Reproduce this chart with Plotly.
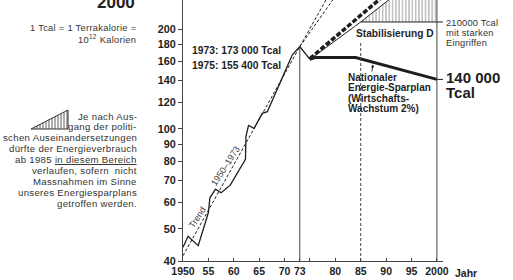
import math
import plotly.graph_objects as go

# ---------------- data ----------------
hist_years = [1950, 1951, 1953, 1955.0, 1955.3, 1956.4, 1957.5, 1959.3, 1962.3, 1962.4, 1962.9, 1964.0,
              1965.6, 1966.6, 1969.5, 1971.5, 1973, 1975]
hist_vals = [44, 47.5, 44.5, 56, 62, 65.8, 64.2, 67.7, 81, 95, 102.5, 100.4,
             111.4, 112.7, 142, 167, 177, 162]

trend_a_years = [1950, 1973, 1980]
trend_a_vals = [41.5, 177, 275]
trend_b_years = [1973, 1980]
trend_b_vals = [177, 251]

plan_years = [1975, 1976, 1984, 2000]
plan_vals = [162, 164, 164, 141]

gek_years = [1975, 1989]
gek_vals = [163, 248]

upper_years = [1975, 1985, 1992]
upper_vals = [162, 210, 255]

stab_years = [1985, 2000]
stab_vals = [210, 210]
hatch_top_years = [1985, 1992, 2000]
hatch_top_vals = [210, 255, 320]

x_tickvals = [1950, 1955, 1960, 1965, 1970, 1973, 1980, 1985, 1990, 1995, 2000]
x_ticktext = ["1950", "55", "60", "65", "70", "73", "80", "85", "90", "95", "2000"]
x_minor_ticks = [1975]
y_tickvals = [40, 50, 60, 70, 80, 90, 100, 120, 140, 160, 180, 200]

# ---------------- layout helpers ----------------
L, R, T, B = 183, 443, 0, 261
W, H = R - L, B - T
def px(x):
    return (x - L) / W
def py(y):
    return (B - y) / H

FONT = "Liberation Sans, Arial, Helvetica, sans-serif"
INK = "#1e1e1e"

fig = go.Figure()

# hatched area (between 210 line and upper scenario)
fig.add_trace(go.Scatter(x=stab_years, y=stab_vals, mode="lines",
                         line=dict(color=INK, width=1), hoverinfo="skip"))
fig.add_trace(go.Scatter(x=hatch_top_years, y=hatch_top_vals, mode="lines",
                         line=dict(width=0), fill="tonexty", fillcolor="rgba(0,0,0,0)",
                         fillpattern=dict(shape="|", size=3.3, solidity=0.3,
                                          fgcolor="#333", bgcolor="white"),
                         hoverinfo="skip"))
# extension ticks of 210 and 140 lines
fig.add_trace(go.Scatter(x=[2000, 2001.2], y=[210, 210], mode="lines",
                         line=dict(color=INK, width=1), hoverinfo="skip"))
fig.add_trace(go.Scatter(x=[2000, 2001.2], y=[plan_vals[-1], plan_vals[-1]], mode="lines",
                         line=dict(color=INK, width=1), hoverinfo="skip"))

# upper thin scenario line
fig.add_trace(go.Scatter(x=upper_years, y=upper_vals, mode="lines",
                         line=dict(color=INK, width=1), hoverinfo="skip"))
# trend lines
fig.add_trace(go.Scatter(x=trend_a_years, y=trend_a_vals, mode="lines",
                         line=dict(color=INK, width=1, dash="3px,2px"), hoverinfo="skip"))
fig.add_trace(go.Scatter(x=trend_b_years, y=trend_b_vals, mode="lines",
                         line=dict(color=INK, width=1, dash="3px,2px"), hoverinfo="skip"))
# GEK thick dashed
fig.add_trace(go.Scatter(x=gek_years, y=gek_vals, mode="lines",
                         line=dict(color=INK, width=3.5, dash="5px,2px"), hoverinfo="skip"))
# historical
fig.add_trace(go.Scatter(x=hist_years, y=hist_vals, mode="lines",
                         line=dict(color=INK, width=1.3), hoverinfo="skip"))
# energy saving plan
fig.add_trace(go.Scatter(x=plan_years, y=plan_vals, mode="lines",
                         line=dict(color=INK, width=3), hoverinfo="skip"))

shapes = [
    dict(type="line", xref="x", yref="y", x0=1973, x1=1973, y0=40, y1=177,
         line=dict(color="#444", width=1)),
    dict(type="line", xref="x", yref="paper", x0=2000, x1=2000, y0=0, y1=1,
         line=dict(color="#444", width=1)),
    dict(type="line", xref="x", yref="y", x0=1985, x1=1985, y0=40, y1=184,
         line=dict(color="#444", width=1, dash="3px,2px")),
]
# legend icon (hatched triangle) at left
tx0, tx1, tyb, tyt = 31, 68, 129, 110
shapes.append(dict(type="path", xref="paper", yref="paper",
                   path=f"M {px(tx0)},{py(tyb)} L {px(tx1)},{py(tyb)} L {px(tx1)},{py(tyt)} Z",
                   line=dict(color="#333", width=1)))
xx = tx0 + 3
while xx < tx1:
    ytop = tyb - (xx - tx0) * (tyb - tyt) / (tx1 - tx0)
    shapes.append(dict(type="line", xref="paper", yref="paper",
                       x0=px(xx), x1=px(xx), y0=py(tyb), y1=py(ytop),
                       line=dict(color="#333", width=0.8)))
    xx += 3

annotations = []
def txt(text, x, y, size=9.5, xanchor="left", bold=False, color=INK, angle=0, bg=None, ls=None):
    t = f"<b>{text}</b>" if bold else text
    if ls:
        t = f'<span style="letter-spacing:{ls}px">{t}</span>'
    d = dict(text=t, xref="paper", yref="paper",
             x=px(x), y=py(y), xanchor=xanchor, yanchor="middle", showarrow=False,
             font=dict(family=FONT, size=size, color=color), textangle=angle)
    if bg:
        d["bgcolor"] = bg
    annotations.append(d)

txt("2000", 137, 3, size=17, xanchor="right", bold=True)
txt("1 Tcal = 1 Terrakalorie =", 138, 28, size=9.3, xanchor="right", color="#333", ls=0.3)
txt("10<sup>12</sup> Kalorien", 138, 39, size=9.3, xanchor="right", color="#333", ls=0.3)

body = ["Je nach Aus-", "gang der politi-", "schen Auseinandersetzungen",
        "dürfte der Energieverbrauch", "ab 1985 <u>in diesem Bereich</u>",
        "verlaufen, sofern  nicht", "Massnahmen im Sinne",
        "unseres Energiesparplans", "getroffen werden."]
for i, line in enumerate(body):
    txt(line, 139, 116 + i * 10.9, size=9.6, xanchor="right", color="#333", ls=0.32)

txt("1973: 173 000 Tcal", 190, 51, size=10.3, bold=True)
txt("1975: 155 400 Tcal", 190, 65, size=10.3, bold=True)
txt("Stabilisierung D", 436, 33.5, size=10.2, xanchor="right", bold=True, bg="white")
txt("210000 Tcal", 444, 23.5, size=9.3, color="#333", ls=0.2)
txt("mit starken", 444, 33.5, size=9.3, color="#333", ls=0.2)
txt("Eingriffen", 444, 43.5, size=9.3, color="#333", ls=0.2)
for i, line in enumerate(["Nationaler", "Energie-Sparplan", "(Wirtschafts-", "Wachstum 2%)"]):
    txt(line, 346, 77 + i * 10.6, size=10, bold=True)
txt("140 000", 444, 78, size=15, bold=True)
txt("Tcal", 444, 92, size=15, bold=True)
txt("Jahr", 453, 272.5, size=10.5, bold=True)
txt("Trend", 197, 218, size=9, xanchor="center", color="#444", angle=-57)
txt("1950–1973", 225.5, 166, size=9, xanchor="center", color="#444", angle=-57)

annotations.append(dict(xref="paper", yref="paper", x=px(373), y=py(64.5), ax=-1.5, ay=9,
                        text=" ", showarrow=True, arrowhead=2, arrowsize=0.7,
                        arrowwidth=0.9, arrowcolor=INK, font=dict(size=1)))

fig.update_layout(
    width=513, height=280, autosize=False,
    margin=dict(l=L, r=513 - R, t=T, b=280 - B, pad=0),
    paper_bgcolor="white", plot_bgcolor="white",
    showlegend=False,
    shapes=shapes, annotations=annotations,
    xaxis=dict(range=[1950, 2001.2], tickvals=x_tickvals,
               ticktext=[f"<b>{t}</b>" for t in x_ticktext],
               ticks="inside", ticklen=3, tickcolor="#444", showline=True,
               linecolor="#444", linewidth=1, showgrid=False, zeroline=False,
               minor=dict(tickvals=x_minor_ticks, ticks="inside", ticklen=3, tickcolor="#444"),
               tickfont=dict(family=FONT, size=10.5, color=INK), fixedrange=True),
    yaxis=dict(type="log", range=[math.log10(40), math.log10(40) + 261 / 331.9],
               tickvals=y_tickvals, ticktext=[f"<b>{v}</b>" for v in y_tickvals],
               ticks="outside", ticklen=4, tickcolor="#444", showline=True,
               linecolor="#444", linewidth=1, showgrid=False, zeroline=False,
               tickfont=dict(family=FONT, size=10.8, color=INK), fixedrange=True),
)

fig.write_html("out.html", config={"displayModeBar": False},
               post_script="document.body.style.margin='0';document.body.style.padding='0';")
